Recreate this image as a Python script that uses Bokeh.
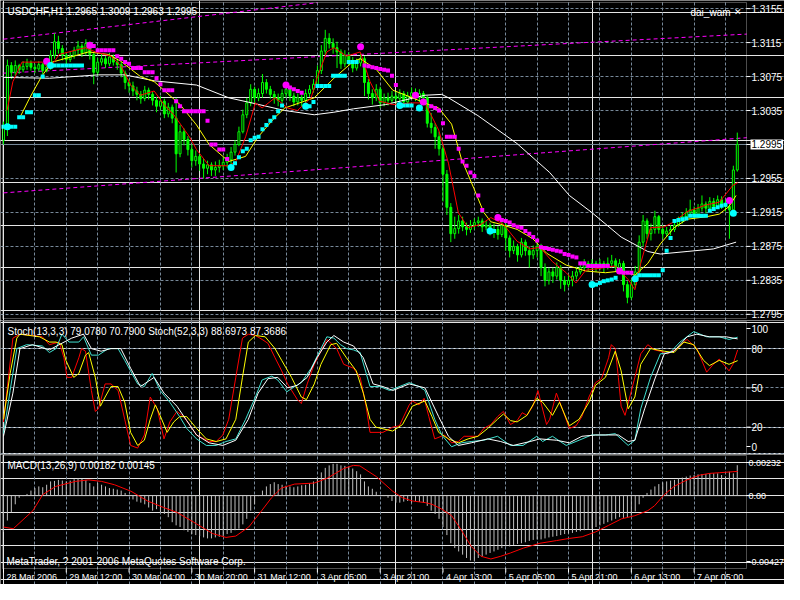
from bokeh.plotting import figure
from bokeh.layouts import column
from bokeh.models import Range1d, FixedTicker, Grid, Label, ColumnDataSource, BoxAnnotation
from bokeh.embed import file_html
from bokeh.resources import INLINE

# ---------------- data (prices in 1/10000 units, e.g. 13088 = 1.3088) ----------------
SYMBOL = "USDCHF,H1"
FIRST_OPEN = 13000
CLOSE = [
    13015, 13088, 13080, 13088, 13083, 13087, 13091, 13086, 13084, 13089,
    13082, 13086, 13100, 13116, 13108, 13100, 13095, 13099, 13106, 13111,
    13103, 13114, 13101, 13080, 13092, 13096, 13090, 13098, 13092, 13089,
    13079, 13068, 13064, 13058, 13054, 13049, 13059, 13054, 13047, 13040,
    13046, 13031, 13039, 13026, 12984, 13010, 13001, 12989, 12976, 12981,
    12972, 12967, 12971, 12965, 12968, 12970, 12974, 12977, 12986, 12995,
    13010, 13030, 13044, 13060, 13050, 13055, 13068, 13060, 13054, 13050,
    13047, 13055, 13060, 13052, 13045, 13050, 13047, 13055, 13060, 13066,
    13082, 13105, 13120, 13114, 13109, 13104, 13090, 13100, 13094, 13085,
    13091, 13096, 13068, 13055, 13050, 13060, 13044, 13050, 13047, 13052,
    13049, 13055, 13045, 13052, 13056, 13050, 13055, 13050, 13020, 13015,
    13004, 12990, 12960, 12921, 12890, 12896, 12905, 12898, 12895, 12900,
    12903, 12905, 12898, 12900, 12893, 12895, 12889, 12900, 12885, 12870,
    12875, 12865, 12880, 12870, 12865, 12870, 12875, 12850, 12835, 12845,
    12840, 12850, 12835, 12830, 12835, 12840, 12845, 12850, 12855, 12852,
    12855, 12850, 12855, 12850, 12855, 12858, 12850, 12855, 12830, 12815,
    12830, 12845, 12880, 12905, 12890, 12895, 12910, 12895, 12890, 12893,
    12895, 12900, 12905, 12910, 12915, 12918, 12912, 12920, 12925, 12920,
    12928, 12922, 12930, 12925, 12922, 12918, 12965, 12995]
HIGH = [
    13022, 13095, 13092, 13094, 13090, 13093, 13096, 13094, 13090, 13093,
    13091, 13092, 13106, 13126, 13123, 13112, 13104, 13105, 13110, 13117,
    13114, 13119, 13116, 13104, 13097, 13102, 13099, 13103, 13101, 13096,
    13092, 13082, 13072, 13069, 13063, 13058, 13064, 13062, 13058, 13051,
    13052, 13049, 13044, 13042, 13050, 13018, 13014, 13005, 12995, 12988,
    12984, 12978, 12976, 12974, 12975, 12977, 12980, 12984, 12992, 13000,
    13016, 13036, 13050, 13066, 13063, 13061, 13078, 13072, 13064, 13058,
    13055, 13060, 13066, 13063, 13056, 13055, 13054, 13060, 13065, 13072,
    13088, 13112, 13130, 13126, 13120, 13116, 13107, 13106, 13104, 13098,
    13096, 13102, 13099, 13072, 13060, 13066, 13063, 13055, 13056, 13058,
    13057, 13060, 13058, 13057, 13062, 13061, 13060, 13058, 13052, 13032,
    13020, 13010, 12994, 12965, 12926, 12910, 12912, 12910, 12903, 12906,
    12908, 12910, 12908, 12905, 12903, 12902, 12899, 12906, 12902, 12888,
    12882, 12878, 12885, 12883, 12875, 12876, 12880, 12878, 12855, 12850,
    12850, 12856, 12853, 12840, 12842, 12846, 12851, 12856, 12860, 12858,
    12860, 12858, 12860, 12858, 12862, 12865, 12861, 12860, 12858, 12834,
    12836, 12852, 12888, 12912, 12908, 12902, 12917, 12912, 12900, 12898,
    12900, 12906, 12910, 12915, 12920, 12930, 12922, 12925, 12935, 12928,
    12933, 12932, 12935, 12934, 12930, 12926, 12970, 13009]
LOW = [
    12995, 13005, 13072, 13076, 13078, 13080, 13083, 13082, 13079, 13081,
    13078, 13080, 13083, 13096, 13102, 13094, 13088, 13092, 13096, 13101,
    13098, 13100, 13095, 13066, 13076, 13088, 13085, 13087, 13088, 13083,
    13074, 13060, 13056, 13052, 13047, 13043, 13046, 13048, 13041, 13033,
    13036, 13026, 13027, 13020, 12962, 12980, 12994, 12982, 12968, 12970,
    12964, 12955, 12960, 12958, 12958, 12962, 12965, 12968, 12972, 12982,
    12993, 13008, 13026, 13040, 13044, 13046, 13050, 13055, 13049, 13043,
    13040, 13044, 13050, 13046, 13040, 13041, 13040, 13044, 13051, 13056,
    13062, 13078, 13100, 13108, 13102, 13085, 13084, 13086, 13088, 13080,
    13082, 13087, 13052, 13048, 13042, 13046, 13038, 13040, 13041, 13044,
    13043, 13045, 13040, 13042, 13048, 13046, 13045, 13044, 13015, 13008,
    12990, 12982, 12928, 12912, 12880, 12884, 12890, 12893, 12888, 12891,
    12895, 12898, 12892, 12894, 12888, 12885, 12883, 12886, 12870, 12862,
    12866, 12857, 12862, 12864, 12850, 12860, 12862, 12840, 12828, 12830,
    12832, 12836, 12825, 12822, 12827, 12828, 12836, 12842, 12846, 12846,
    12848, 12845, 12847, 12844, 12848, 12850, 12845, 12846, 12822, 12808,
    12812, 12826, 12840, 12875, 12884, 12882, 12890, 12890, 12884, 12886,
    12888, 12892, 12898, 12902, 12906, 12910, 12907, 12909, 12916, 12914,
    12918, 12917, 12920, 12919, 12916, 12884, 12915, 12963]

# moving averages (bar index, price)
MA_FAST_IDX = [0.9, 2.4, 4.7, 9.9, 11.7, 14.2, 20.9, 23.4, 27.4, 29.9, 32.4, 34.9, 38.4, 40.9, 43.4,
               47.4, 49.2, 52.4, 57.4, 59.2, 61.7, 64.2, 65.9, 69.2, 72.4, 74.9, 78.4, 79.9, 82.4,
               84.2, 87.4, 90.9, 93.4, 95.9, 99.2, 104.2, 107.4, 110.9, 113.4, 115.9, 118.4, 121.7,
               124.2, 127.4, 130.9, 134.2, 136.7, 139.9, 143.4, 145.9, 148.4, 151.7, 155.9, 159.2,
               160.9, 162.4, 164.9, 168.4, 170.9, 174.2, 179.2, 182.4, 185.9, 187.1]
MA_FAST_VAL = [13035, 13069, 13092, 13092, 13084, 13101, 13109, 13104, 13099, 13088, 13065, 13053,
               13058, 13042, 13030, 13004, 12989, 12970, 12970, 12975, 13004, 13044, 13038, 13050,
               13038, 13035, 13050, 13073, 13104, 13109, 13099, 13104, 13069, 13046, 13042, 13044,
               13044, 13012, 12973, 12915, 12897, 12901, 12909, 12901, 12881, 12872, 12874, 12857,
               12844, 12832, 12847, 12849, 12852, 12836, 12824, 12855, 12897, 12898, 12904, 12916,
               12924, 12927, 12947, 12950]
MA_MID_IDX = [4.2, 6.7, 9.7, 12.4, 21.7, 26.7, 29.9, 34.9, 38.4, 45.0, 49.2, 52.4, 55.9, 57.4, 61.7,
              64.9, 69.2, 71.7, 76.7, 79.2, 84.2, 89.2, 90.9, 94.9, 99.2, 104.2, 108.4, 110.9, 114.2,
              116.7, 119.9, 122.4, 124.2, 126.7, 130.9, 134.9, 138.4, 143.4, 148.4, 153.4, 157.4,
              160.9, 164.2, 167.4, 170.9, 174.2, 179.2, 182.4, 184.9, 186.7]
MA_MID_VAL = [13027, 13050, 13075, 13092, 13104, 13101, 13093, 13075, 13069, 13042, 13018, 12995,
              12981, 12975, 12981, 13004, 13027, 13038, 13046, 13050, 13073, 13093, 13096, 13084,
              13059, 13050, 13042, 13038, 13019, 12978, 12943, 12915, 12904, 12901, 12895, 12884,
              12867, 12853, 12846, 12844, 12846, 12841, 12855, 12878, 12897, 12907, 12910, 12913,
              12922, 12935]
MA_SLOW_IDX = [0, 11.7, 24.2, 30.9, 38.4, 49.2, 57.4, 64.2, 71.7, 79.2, 84.2, 89.2, 97.4, 107.4, 111.7,
               113.4, 120.9, 130.9, 139.2, 144.2, 149.9, 157.4, 164.2, 167.4, 174.2, 180.9, 186.7]
MA_SLOW_VAL = [13074, 13073, 13077, 13077, 13070, 13065, 13050, 13043, 13035, 13030, 13033, 13037,
               13042, 13053, 13054, 13050, 13029, 12996, 12962, 12935, 12915, 12886, 12869, 12866,
               12869, 12872, 12880]

# trailing-stop dots: below price (aqua) / above price (magenta)
TRAIL_UP_IDX = [0, 1, 2, 3, 4, 5, 6, 7, 8, 9, 10, 12, 13, 14, 15, 16, 17, 18, 19, 20,
                59, 60, 61, 62, 63, 64, 65, 66, 67, 68, 69, 70, 71,
                78, 79, 80, 81, 82, 83, 84, 85, 86, 87, 88, 89, 90,
                102, 103, 104, 125, 151, 152, 153, 154, 155, 156,
                162, 163, 164, 165, 166, 167, 168, 169, 170, 171, 172, 173, 174, 175, 176, 177,
                178, 179, 180, 181, 182, 183, 184]
TRAIL_UP_VAL = [13016, 13016, 13016, 13016, 13027, 13027, 13033, 13033, 13053, 13053, 13075,
                13088, 13088, 13088, 13088, 13088, 13088, 13088, 13088, 13088,
                12973, 12980, 12987, 12990, 13000, 13003, 13004, 13013, 13018, 13023, 13027, 13034, 13041,
                13040, 13045, 13064, 13064, 13064, 13064, 13076, 13076, 13076, 13076, 13092, 13092, 13092,
                13041, 13041, 13041, 12893, 12830, 12832, 12834, 12835, 12836, 12838,
                12841, 12841, 12841, 12841, 12841, 12841, 12847, 12870, 12885, 12905, 12906, 12907,
                12908, 12911, 12911, 12911, 12911, 12911, 12917, 12919, 12921, 12923, 12924]
TRAIL_DN_IDX = list(range(23, 58)) + [73, 74, 75, 76] + list(range(92, 101)) + list(range(109, 123)) \
    + list(range(127, 155)) + [158, 159, 160]
TRAIL_DN_VAL = [13111, 13106, 13106, 13106, 13106, 13106, 13099, 13096, 13092, 13090, 13085, 13085,
                13085, 13080, 13080, 13080, 13073, 13066, 13059, 13059, 13059, 13046, 13040, 13034,
                13034, 13034, 13034, 13034, 13034, 13023, 12995, 12995, 12989, 12989, 12978,
                13062, 13060, 13058, 13056,
                13088, 13087, 13086, 13085, 13084, 13083, 13082, 13076, 13065,
                13040, 13038, 13035, 13020, 13004, 13004, 13004, 12990, 12975, 12970, 12962, 12958,
                12935, 12918,
                12906, 12905, 12903, 12900, 12898, 12897, 12893, 12890, 12886, 12882, 12874, 12873,
                12872, 12871, 12870, 12869, 12866, 12865, 12863, 12862, 12855, 12855,
                12852, 12852, 12852, 12852, 12852, 12852,
                12844, 12844, 12844]
FLIP_UP_IDX = [1, 12, 58, 77, 101, 106, 124, 150, 161, 186]
FLIP_UP_VAL = [13016, 13088, 12968, 13040, 13041, 13038, 12893, 12830, 12837, 12914]
FLIP_DN_IDX = [11, 22, 72, 91, 105, 107, 126, 157, 185]
FLIP_DN_VAL = [13093, 13112, 13065, 13110, 13053, 13045, 12909, 12846, 12929]

# channel trend lines (start bar, start price, end bar, end price)
TREND_I0 = [0, 0, 0]
TREND_P0 = [13119, 13079, 12938]
TREND_I1 = [80, 189.4, 189.4]
TREND_P1 = [13162, 13125, 13003]

BID = 12995
PRICE_LEVELS = [13155, 13115, 13075, 13035, 12995, 12955, 12915, 12875, 12835, 12795]

# stochastic oscillators (bar index, value)
ST13_K_IDX = [0, 2.4, 4.2, 7.4, 9.9, 11.7, 14.2, 15.4, 16.2, 17.4, 19.2, 19.9, 20.9, 22.4, 23.4, 24.2,
              25.9, 27.4, 29.2, 30.9, 32.4, 34.2, 35.9, 37.4, 39.2, 40.9, 42.4, 44.2, 45.9, 47.4,
              49.2, 52.4, 54.2, 55.9, 57.4, 59.2, 60.9, 62.4, 64.2, 65.9, 67.4, 69.2, 70.9, 72.4,
              74.9, 75.9, 77.4, 79.2, 80.9, 82.4, 84.9, 86.7, 89.2, 90.9, 92.4, 93.4, 96.7, 99.2,
              100.9, 103.4, 104.2, 105.9, 107.2, 108.4, 109.9, 112.4, 114.2, 115.9, 117.4, 120.9,
              122.4, 124.2, 125.9, 127.4, 129.2, 130.9, 132.2, 133.4, 134.9, 136.2, 137.2, 138.4,
              139.2, 140.9, 142.4, 144.2, 145.9, 147.4, 149.2, 150.9, 152.4, 154.2, 154.9, 155.9,
              156.7, 157.4, 158.4, 160.9, 162.4, 164.2, 165.9, 167.4, 169.2, 171.7, 174.2, 176.7,
              179.2, 180.9, 182.4, 184.9, 185.9, 187.1]
ST13_K_VAL = [24, 88, 91, 90, 89, 83, 85, 73, 58, 58, 73, 80, 78, 48, 32, 34, 53, 53, 48, 26,
              6, 4, 14, 43, 34, 11, 24, 32, 28, 22, 14, 9, 9, 14, 26, 58, 88, 91, 90, 87,
              84, 73, 63, 53, 41, 38, 53, 68, 78, 87, 80, 68, 65, 58, 36, 16, 16, 20, 21, 37,
              40, 37, 42, 28, 11, 14, 8, 9, 13, 13, 19, 22, 28, 32, 22, 25, 31, 29, 36, 48,
              36, 22, 26, 46, 34, 19, 21, 28, 43, 54, 57, 73, 83, 80, 58, 36, 29, 58, 76, 83,
              79, 78, 76, 80, 87, 80, 62, 68, 72, 63, 68, 79]
ST13_D_IDX = [0, 1.7, 3.4, 4.2, 9.2, 11.7, 13.4, 14.9, 15.9, 17.9, 19.2, 20.9, 21.7, 23.4, 24.7, 25.9,
              27.4, 29.2, 30.9, 32.4, 34.2, 35.9, 37.4, 38.7, 39.9, 41.7, 43.4, 44.9, 46.7, 49.2,
              51.7, 54.2, 56.7, 59.2, 60.9, 62.4, 64.2, 66.7, 69.2, 70.9, 73.4, 75.9, 77.2, 79.2,
              80.9, 83.4, 84.9, 87.4, 89.9, 91.7, 93.4, 94.9, 99.2, 101.7, 104.2, 107.4, 109.2,
              110.9, 113.4, 115.9, 118.4, 120.9, 123.4, 125.9, 127.4, 129.2, 130.9, 133.4, 135.9,
              137.4, 139.9, 141.7, 144.2, 146.7, 149.2, 150.9, 153.4, 155.9, 157.4, 159.2, 160.9,
              162.4, 164.9, 168.4, 170.9, 173.4, 175.9, 178.4, 179.9, 182.4, 184.9, 187.1]
ST13_D_VAL = [26, 61, 88, 91, 89, 85, 85, 83, 71, 58, 61, 75, 77, 58, 36, 43, 51, 51, 39, 16,
              6, 10, 26, 37, 29, 16, 24, 28, 28, 19, 11, 9, 11, 26, 58, 85, 90, 89, 80, 71,
              58, 43, 41, 53, 68, 83, 84, 73, 63, 46, 26, 20, 17, 22, 36, 40, 28, 16, 11, 8,
              11, 13, 19, 26, 30, 25, 24, 29, 42, 39, 29, 39, 21, 26, 39, 52, 58, 78, 63, 34,
              43, 68, 80, 78, 77, 85, 83, 71, 67, 71, 68, 70.8]
ST52_K_IDX = [0, 1.7, 3.4, 5.9, 9.9, 11.7, 13.4, 14.9, 16.7, 19.2, 20.4, 22.4, 24.2, 26.7, 29.2, 30.9,
              34.2, 35.9, 37.9, 39.9, 42.4, 44.9, 46.7, 49.2, 51.7, 54.2, 56.7, 59.2, 61.7, 64.2,
              65.9, 68.4, 69.9, 72.2, 74.2, 75.9, 78.4, 80.9, 82.4, 84.2, 85.9, 87.4, 89.2, 90.9,
              93.4, 95.9, 98.4, 103.4, 105.9, 107.4, 109.9, 111.7, 114.2, 116.7, 119.2, 122.4,
              125.9, 129.2, 132.4, 135.9, 137.4, 139.9, 143.4, 146.7, 149.9, 153.4, 155.9, 159.2,
              160.9, 162.4, 164.9, 167.4, 169.9, 172.4, 175.9, 179.2, 182.4, 184.9, 187.1]
ST52_K_VAL = [15, 48, 80, 83, 82, 77, 80, 91, 85, 85, 89, 75, 75, 80, 80, 71, 53, 51, 61, 48,
              39, 28, 19, 11, 6, 6, 9, 11, 26, 43, 56, 59, 56, 47, 51, 54, 65, 80, 89, 88,
              83, 80, 79, 77, 51, 51, 48, 54, 51, 48, 26, 14, 5, 8, 9, 10, 13, 6, 6, 13,
              9, 13, 6, 10, 14, 14, 15, 6, 10, 34, 58, 76, 77, 85, 93, 89, 89, 87, 88.7]
ST52_D_IDX = [0, 2.4, 4.2, 7.4, 11.7, 14.2, 17.4, 20.4, 22.4, 24.9, 27.4, 29.9, 32.4, 34.9, 38.4, 40.9,
              44.2, 46.7, 49.2, 52.4, 55.9, 59.2, 62.4, 64.9, 67.4, 69.9, 72.4, 74.9, 77.4, 79.9,
              82.4, 84.2, 86.7, 89.2, 91.7, 94.2, 96.7, 99.2, 103.4, 107.4, 110.9, 113.4, 115.9,
              119.2, 123.4, 126.7, 129.9, 134.2, 136.7, 140.9, 144.2, 147.4, 150.9, 154.2, 156.7,
              159.2, 160.9, 163.4, 165.9, 168.4, 170.9, 174.2, 176.7, 179.9, 184.2, 187.1]
ST52_D_VAL = [13, 46, 80, 83, 79, 83, 88, 91, 80, 78, 80, 80, 65, 51, 58, 46, 36, 25, 14, 8,
              6, 10, 26, 46, 57, 58, 50, 52, 58, 73, 85, 90, 85, 82, 73, 53, 51, 48, 53, 50,
              28, 13, 6, 8, 11, 9, 6, 9, 11, 10, 8, 13, 14, 14, 14, 9, 10, 34, 56, 76,
              78, 89, 91, 89, 89, 87.4]
ST13_LAST = (79.0780, 70.7900)
ST52_LAST = (88.6973, 87.3686)
STOCH_LEVELS = [100, 80, 50, 20, 0]

# MACD (values in 1e-5)
MACD_MAIN = [
    -217, -149, -100, -52, -13, -3, 10, 30, 45, 55,
    50, 65, 85, 88, 94, 90, 85, 90, 98, 104,
    100, 94, 75, 55, 75, 65, 55, 45, 41, 36,
    30, 16, -3, -23, -36, -42, -52, -71, -90, -81,
    -100, -110, -129, -159, -178, -188, -207, -217, -230, -236,
    -242, -250, -256, -256, -250, -246, -242, -230, -223, -207,
    -198, -172, -139, -90, -52, -3, 30, 55, 69, 80,
    69, 65, 59, 55, 50, 55, 62, 65, 75, 85,
    108, 139, 166, 181, 190, 190, 181, 178, 172, 162,
    146, 127, 85, 55, 41, 23, 1, -3, -13, -32,
    -42, -42, -36, -32, -42, -32, -38, -42, -61, -90,
    -110, -139, -188, -236, -285, -314, -334, -353, -373, -388,
    -392, -373, -363, -353, -343, -334, -324, -314, -304, -304,
    -295, -289, -285, -279, -271, -265, -262, -262, -256, -250,
    -246, -242, -236, -230, -227, -223, -217, -213, -207, -201,
    -198, -188, -178, -169, -159, -149, -139, -129, -133, -129,
    -120, -94, -52, -13, 16, 36, 55, 69, 79, 85,
    90, 94, 104, 108, 114, 120, 123, 127, 129, 129,
    133, 133, 133, 123, 114, 143, 133, 182]
MACD_SIG_IDX = [0, 2.5, 7.5, 10, 13.3, 18.3, 21.7, 25, 28.3, 32.5, 36.7, 40.8, 44.2, 49.2, 53.3, 56.7,
                59.2, 62.5, 65.8, 68.3, 70.8, 74.2, 79.2, 82.5, 86.7, 89.2, 90.8, 95, 99.2, 101.7,
                104.2, 107.5, 109.2, 111.7, 114.2, 116.7, 119.2, 121.7, 124.2, 126.7, 129.2, 132.5,
                136.7, 140.9, 144.2, 147.5, 150.9, 154.2, 157.5, 160.9, 164.2, 165.9, 168.4, 170.9,
                174.2, 177.5, 180, 182.5, 187.1]
MACD_SIG_VAL = [-188, -198, -90, 6, 55, 85, 94, 85, 65, 26, -32, -71, -100, -169, -227, -250,
                -242, -188, -90, -13, 45, 69, 75, 104, 162, 181, 178, 114, 26, -13,
                -32, -42, -52, -81, -120, -207, -304, -363, -379, -363, -343, -314,
                -285, -269, -256, -246, -217, -178, -139, -120, -90, -61, 6, 55,
                94, 123, 133, 137, 145]
MACD_LAST = (0.00182, 0.00145)
MACD_LEVELS = [0.00232, 0.00, -0.00427]

X_TICK_LABELS = ["28 Mar 2006", "29 Mar 12:00", "30 Mar 04:00", "30 Mar 20:00", "31 Mar 12:00",
                 "3 Apr 05:00", "3 Apr 21:00", "4 Apr 13:00", "5 Apr 05:00", "5 Apr 21:00",
                 "6 Apr 13:00", "7 Apr 05:00"]
COPYRIGHT = "MetaTrader, ? 2001-2006 MetaQuotes Software Corp."
EA_NAME = "dai_wam"

# ---------------- styling / layout ----------------
FONT = "Liberation Sans"
FS = "10px"
FS_SMALL = "9px"
BG, FG = "black", "white"
GRID_C = "#778899"
LIME = "#00FF00"
MAGENTA = "#FF00FF"
AQUA = "#00FFFF"
TURQ = "#40E0D0"
HIST_C = "#C0C0C0"
W = 784
BL, BR = 2, 38            # pixels left / right of the plotting box
PLOT_W = W - BL - BR      # 744
X_LO, X_HI = -0.25, 189.35
XPP = (X_HI - X_LO) / PLOT_W


def px(v):
    return v / 10000.0


def sc(v):
    return v / 100000.0


N = len(CLOSE)
bars = list(range(N))
opens = [FIRST_OPEN] + CLOSE[:-1]
hi = [max(h, o, c) for h, o, c in zip(HIGH, opens, CLOSE)]
lo = [min(l, o, c) for l, o, c in zip(LOW, opens, CLOSE)]

xr = Range1d(X_LO - BL * XPP, X_HI + BR * XPP)


def make_panel(height, y_lo, y_hi, top_px, bottom_px):
    box_h = height - top_px - bottom_px
    dpp = (y_hi - y_lo) / box_h
    p = figure(width=W, height=height, x_range=xr,
               y_range=Range1d(y_lo - bottom_px * dpp, y_hi + top_px * dpp),
               output_backend="svg", toolbar_location=None, tools="", title=None,
               min_border=0, x_axis_location=None, y_axis_location=None,
               background_fill_color=BG, border_fill_color=BG)
    p.outline_line_color = None
    p.add_layout(Grid(dimension=0, ticker=FixedTicker(ticks=list(range(8, N, 8))),
                      bounds=(y_lo, y_hi), grid_line_color=GRID_C, grid_line_dash="3 2",
                      grid_line_width=1))
    return p, dpp


def frame(p, y_lo, y_hi):
    p.add_layout(BoxAnnotation(left=X_LO, right=X_HI, bottom=y_lo, top=y_hi, fill_color=None,
                               line_color=FG, line_width=1))


def hgrid(p, levels):
    p.add_layout(Grid(dimension=1, ticker=FixedTicker(ticks=levels), bounds=(X_LO, X_HI),
                      grid_line_color=GRID_C, grid_line_dash="3 2", grid_line_width=1))


def right_ticks(p, positions):
    p.segment(x0=[X_HI] * len(positions), y0=positions, x1=[X_HI + 4 * XPP] * len(positions),
              y1=positions, line_color=FG, line_width=1)


def text(p, x, y, s, color=FG, align="left", baseline="top", xoff=0, bg=None, size=FS):
    kw = dict(x=x, y=y, text=s, text_color=color, text_font=FONT, text_font_size=size,
              text_align=align, text_baseline=baseline, x_offset=xoff)
    if bg is not None:
        kw.update(background_fill_color=bg, padding=1)
    p.add_layout(Label(**kw))


def clamp(v, a, b, m):
    return min(max(v, a + m), b - m)


# ---------------- main price panel ----------------
Y1_LO, Y1_HI = 1.27901, 1.31622
main_ticks = [px(v) for v in PRICE_LEVELS]
p1, d1 = make_panel(320, Y1_LO, Y1_HI, 2, 2)
hgrid(p1, main_ticks)
p1.segment(x0=[X_LO], y0=[px(BID)], x1=[X_HI], y1=[px(BID)], line_color=GRID_C, line_width=1)

p1.segment(x0=TREND_I0, y0=[px(v) for v in TREND_P0], x1=TREND_I1, y1=[px(v) for v in TREND_P1],
           line_color=MAGENTA, line_dash="4 3", line_width=1)

o_p = [px(v) for v in opens]
c_p = [px(v) for v in CLOSE]
src = ColumnDataSource(dict(
    x=bars, h=[px(v) for v in hi], l=[px(v) for v in lo],
    top=[max(a, b) for a, b in zip(o_p, c_p)], bot=[min(a, b) for a, b in zip(o_p, c_p)],
    fill=[BG if c > o else LIME for o, c in zip(opens, CLOSE)]))
p1.segment(x0="x", y0="l", x1="x", y1="h", source=src, line_color=LIME, line_width=1)
p1.vbar(x="x", width=0.5, top="top", bottom="bot", source=src, fill_color="fill",
        line_color=LIME, line_width=1)

p1.line(MA_SLOW_IDX, [px(v) for v in MA_SLOW_VAL], line_color=FG, line_width=1)
p1.line(MA_MID_IDX, [px(v) for v in MA_MID_VAL], line_color="#FFFF00", line_width=1)
p1.line(MA_FAST_IDX, [px(v) for v in MA_FAST_VAL], line_color="#FF0000", line_width=1)

p1.scatter(TRAIL_DN_IDX, [px(v) for v in TRAIL_DN_VAL], marker="square", size=4,
           fill_color=MAGENTA, line_color=None)
p1.scatter(TRAIL_UP_IDX, [px(v) for v in TRAIL_UP_VAL], marker="square", size=4,
           fill_color=AQUA, line_color=None)
p1.scatter(FLIP_DN_IDX, [px(v) for v in FLIP_DN_VAL], marker="circle", size=7,
           fill_color=MAGENTA, line_color=None)
p1.scatter(FLIP_UP_IDX, [px(v) for v in FLIP_UP_VAL], marker="circle", size=7,
           fill_color=AQUA, line_color=None)

frame(p1, Y1_LO, Y1_HI)
right_ticks(p1, main_ticks)
title_txt = "%s  %.4f %.4f %.4f %.4f" % (SYMBOL, px(opens[-1]), px(hi[-1]), px(lo[-1]), px(CLOSE[-1]))
text(p1, X_LO, Y1_HI - 3 * d1, title_txt, xoff=5)
text(p1, X_HI, Y1_HI - 4 * d1, EA_NAME, xoff=-56)
text(p1, X_HI, Y1_HI - 4 * d1, "\u2715", xoff=-13, size=FS_SMALL)
for lv in PRICE_LEVELS:
    if lv == BID:
        continue
    text(p1, X_HI, px(lv), "%.4f" % px(lv), baseline="middle", xoff=5)
text(p1, X_HI, px(BID), "%.4f" % px(BID), color=BG, baseline="middle", xoff=4, bg=FG)

# ---------------- stochastic panel ----------------
Y2_LO, Y2_HI = -0.15, 100.7
p2, d2 = make_panel(134, Y2_LO, Y2_HI, 1, 1)
st_pos = [clamp(v, Y2_LO, Y2_HI, 7 * d2) for v in STOCH_LEVELS]
hgrid(p2, [0, 20, 50, 80])
p2.line(ST13_K_IDX, ST13_K_VAL, line_color="#FF0000", line_width=1)
p2.line(ST13_D_IDX, ST13_D_VAL, line_color="#FFFF00", line_width=1)
p2.line(ST52_K_IDX, ST52_K_VAL, line_color=TURQ, line_width=1)
p2.line(ST52_D_IDX, ST52_D_VAL, line_color=FG, line_width=1)
frame(p2, Y2_LO, Y2_HI)
right_ticks(p2, st_pos)
st_title = "Stoch(13,3,3) %.4f %.4f  Stoch(52,3,3) %.4f %.4f" % (ST13_LAST + ST52_LAST)
text(p2, X_LO, Y2_HI - 4 * d2, st_title, xoff=5)
for lv, pos in zip(STOCH_LEVELS, st_pos):
    text(p2, X_HI, pos, str(lv), baseline="middle", xoff=5)

# ---------------- MACD panel ----------------
Y3_LO, Y3_HI = -0.00436, 0.00240
p3, d3 = make_panel(130, Y3_LO, Y3_HI, 1, 16)
m_pos = [clamp(v, Y3_LO, Y3_HI, 7 * d3) for v in MACD_LEVELS]
p3.segment(x0=[X_LO], y0=[0], x1=[X_HI], y1=[0], line_color=HIST_C, line_width=1)
p3.segment(x0=bars, y0=[0] * N, x1=bars, y1=[sc(v) for v in MACD_MAIN], line_color=HIST_C,
           line_width=1)
p3.line(MACD_SIG_IDX, [sc(v) for v in MACD_SIG_VAL], line_color="#FF0000", line_width=1)
frame(p3, Y3_LO, Y3_HI)
right_ticks(p3, m_pos)
xt = list(range(0, N, 16))
p3.segment(x0=xt, y0=[Y3_LO] * len(xt), x1=xt, y1=[Y3_LO - 4 * d3] * len(xt), line_color=FG,
           line_width=1)
text(p3, X_LO, Y3_HI - 4 * d3, "MACD(13,26,9) %.5f %.5f" % MACD_LAST, xoff=5)
text(p3, X_LO, Y3_LO + 2 * d3, COPYRIGHT, baseline="bottom", xoff=4)
for lv, pos in zip(MACD_LEVELS, m_pos):
    text(p3, X_HI, pos, ("%.5f" % lv) if lv != 0 else "0.00", baseline="middle", xoff=2,
         size=FS_SMALL)
for b, s in zip(xt, X_TICK_LABELS):
    text(p3, b, Y3_LO - 3 * d3, s, xoff=3, size=FS_SMALL)

layout = column(p1, p2, p3)
open("out.html", "w").write(file_html(layout, INLINE))
